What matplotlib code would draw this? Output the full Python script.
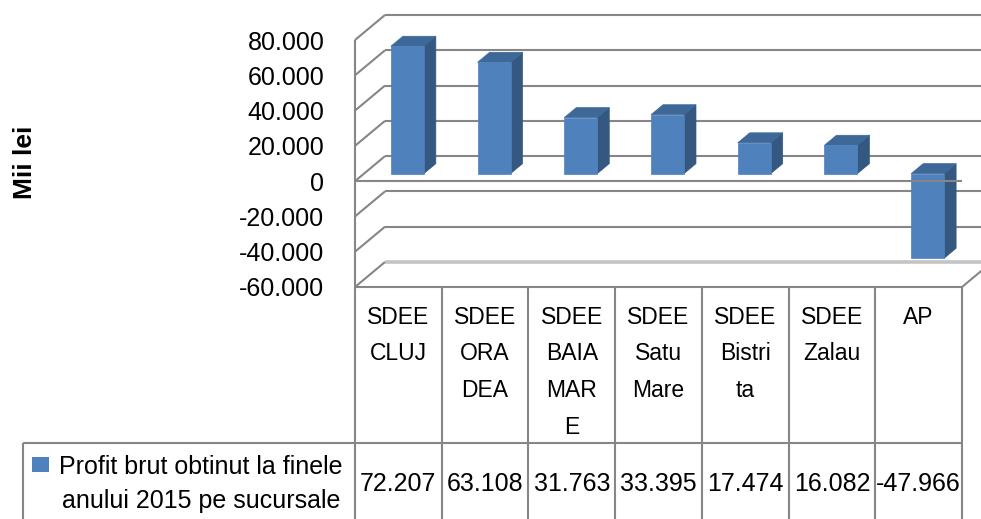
import matplotlib
matplotlib.use("Agg")
import matplotlib.pyplot as plt
import numpy as np
from matplotlib.patches import Polygon, Rectangle
from matplotlib.lines import Line2D
from matplotlib.transforms import IdentityTransform

# ---------------- data ----------------
categories = ["SDEE\nCLUJ", "SDEE\nORA\nDEA", "SDEE\nBAIA\nMAR\nE", "SDEE\nSatu\nMare",
              "SDEE\nBistri\nta", "SDEE\nZalau", "AP"]
values = [72207, 63108, 31763, 33395, 17474, 16082, -47966]
value_labels = ["72.207", "63.108", "31.763", "33.395", "17.474", "16.082", "-47.966"]
y_ticks = [-60000, -40000, -20000, 0, 20000, 40000, 60000, 80000]
y_tick_labels = ["-60.000", "-40.000", "-20.000", "0", "20.000", "40.000", "60.000", "80.000"]
series_name = "Profit brut obtinut la finele\nanului 2015 pe sucursale"
axis_title = "Mii lei"

# ---------------- style ----------------
W, H = 981, 519
DX, DY = 30, 25            # depth offset of the back wall (pixels)
T0, T1 = 0.30, 0.70        # bar depth range
BAR_W = 0.38
C_FRONT, C_SIDE, C_TOP = "#4F81BD", "#34587F", "#3D6898"
GRID = "#868686"
NUM_FONT = ["Liberation Sans", "DejaVu Sans"]
TXT_FONT = ["Liberation Sans", "DejaVu Sans"]

fig = plt.figure(figsize=(W / 100, H / 100), dpi=100)
ax = fig.add_axes([355 / W, (H - 287) / H, (962 - 355) / W, (287 - 40) / H])
ax.set_xlim(-0.5, len(values) - 0.5)
ax.set_ylim(y_ticks[0], y_ticks[-1])
ax.patch.set_visible(False)
for s in ax.spines.values():
    s.set_visible(False)
ax.set_xticks([])
ax.set_yticks(y_ticks)
ax.set_yticklabels(y_tick_labels, fontsize=18, family=NUM_FONT)
ax.tick_params(axis="y", length=0, pad=22)

ident = IdentityTransform()


def D(x, y, t=0.0):
    p = ax.transData.transform((x, y))
    return np.array([p[0] + DX * t, p[1] + DY * t])


def line(p, q, color=GRID, lw=1.5, z=1):
    fig.add_artist(Line2D([p[0], q[0]], [p[1], q[1]], color=color, lw=lw,
                          transform=ident, zorder=z, solid_capstyle="butt"))


x0, x1 = -0.5, len(values) - 0.5
ymin, ymax = y_ticks[0], y_ticks[-1]

# back wall + side wall gridlines
for v in y_ticks:
    if v == ymin:
        line(D(x0, v, 1), D(x1, v, 1), color="#C4C4C4", lw=2.6, z=1)
    else:
        line(D(x0, v, 1), D(x1, v, 1), z=1)
    line(D(x0, v, 0), D(x0, v, 1), z=1)

# front left vertical axis line
line(D(x0, ymin, 0), D(x0, ymax, 0), z=2)

# bars
for i, v in enumerate(values):
    l, r = i - BAR_W / 2, i + BAR_W / 2
    lo, hi = min(0, v), max(0, v)
    front = [D(l, lo, T0), D(r, lo, T0), D(r, hi, T0), D(l, hi, T0)]
    side = [D(r, lo, T0), D(r, lo, T1), D(r, hi, T1), D(r, hi, T0)]
    top = [D(l, hi, T0), D(r, hi, T0), D(r, hi, T1), D(l, hi, T1)]
    for pts, c in ((side, C_SIDE), (top, C_TOP), (front, C_FRONT)):
        fig.add_artist(Polygon(pts, closed=True, facecolor=c, edgecolor=c, lw=0.5,
                               transform=ident, zorder=3))

# front zero line (drawn over bars) and front bottom edge
line(D(x0, 0, 0), D(x1, 0, 0), z=5)
line(D(x0, ymin, 0), D(x1, ymin, 0), z=5)
line(D(x1, ymin, 0), D(x1, ymin, 1), z=5)

# ---------------- data table ----------------
y_top = D(x0, ymin, 0)[1]
y_row = H - 443
for i in range(len(values) + 1):
    xp = D(i - 0.5, 0, 0)[0]
    line((xp, y_top), (xp, 0), z=5)
line((23, y_row), (D(x1, 0, 0)[0], y_row), z=5)
line((23, y_row), (23, 0), z=5)

for i, (cat, vl) in enumerate(zip(categories, value_labels)):
    xc = D(i, 0, 0)[0]
    fig.text(xc / W, (H - 306) / H, cat, ha="center", va="top", fontsize=16.5,
             family=TXT_FONT, linespacing=1.75, color="black")
    fig.text(xc / W, (H - 484) / H, vl, ha="center", va="center", fontsize=18,
             family=NUM_FONT, color="black")

# legend key in the table
fig.add_artist(Rectangle((32, H - 472), 17, 15, facecolor=C_FRONT, edgecolor="none",
                         transform=ident, zorder=5))
fig.text(201 / W, (H - 484) / H, series_name, ha="center", va="center", fontsize=18,
         family=TXT_FONT, linespacing=1.55, color="black")

# axis title
fig.text(25 / W, (H - 162) / H, axis_title, rotation=90, ha="center", va="center",
         fontsize=19, fontweight="bold", family=NUM_FONT, color="black")

fig.savefig("out.png", dpi=100)
